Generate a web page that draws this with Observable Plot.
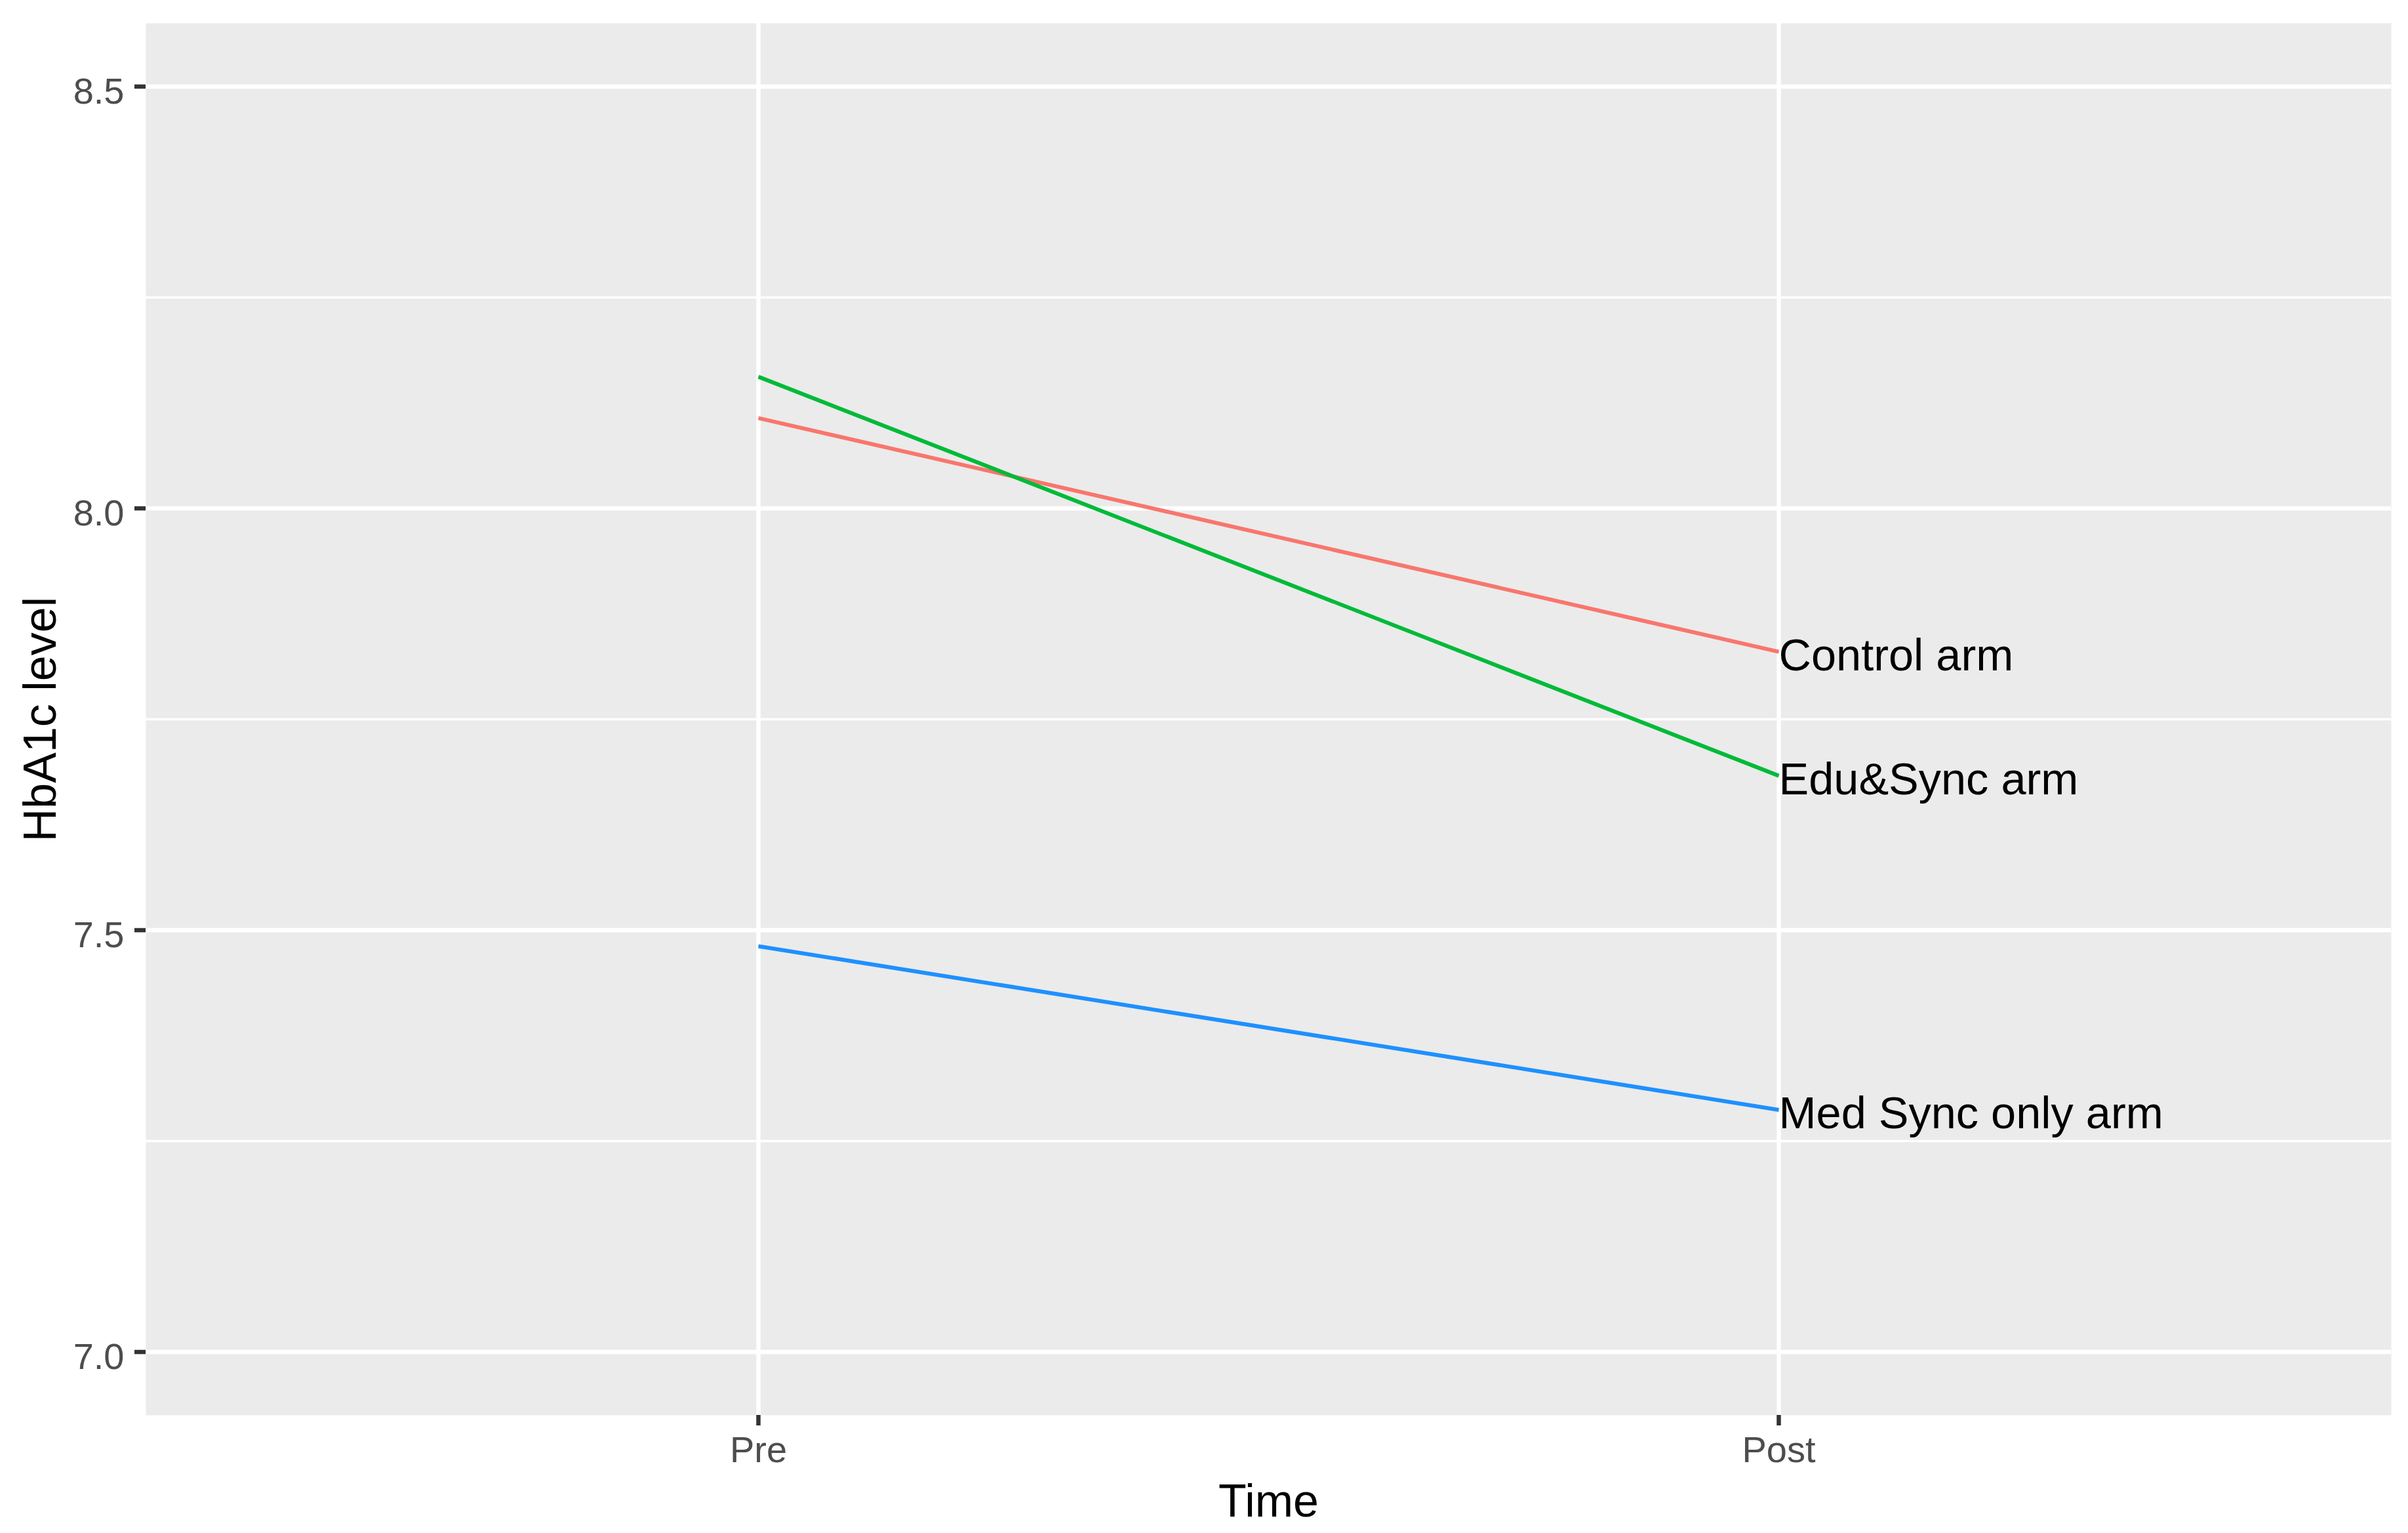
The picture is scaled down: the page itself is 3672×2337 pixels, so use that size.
<!DOCTYPE html>
<html>
<head>
<meta charset="utf-8">
<script src="https://cdn.jsdelivr.net/npm/d3@7"></script>
<script src="https://cdn.jsdelivr.net/npm/@observablehq/plot@0.6"></script>
<style>
  html, body { margin: 0; padding: 0; background: white; }
</style>
</head>
<body>
<div id="chart"></div>
<script>
const times = ["Pre", "Post"];
const arms = ["Control arm", "Edu&Sync arm", "Med Sync only arm"];
const preValues = [8.107, 8.156, 7.481];
const postValues = [7.830, 7.683, 7.287];
const armColors = ["#F8766D", "#00BA38", "#1E90FF"];
const yTicks = [7.0, 7.5, 8.0, 8.5];
const yMinorTicks = [7.25, 7.75, 8.25];
const xTitle = ["Time"];
const yTitle = ["HbA1c level"];

const data = arms.flatMap((arm, i) => [
  {arm, time: times[0], value: preValues[i]},
  {arm, time: times[1], value: postValues[i]}
]);
const endLabels = data.filter(d => d.time === times[1]);

const font = "'Liberation Sans', Arial, Helvetica, sans-serif";

const chart = Plot.plot({
  width: 3672,
  height: 2337,
  marginLeft: 222,
  marginRight: 26,
  marginTop: 35,
  marginBottom: 180,
  style: {fontFamily: font, background: "white", overflow: "visible"},
  x: {type: "point", domain: times, padding: 0.6},
  y: {domain: [6.925, 8.575]},
  color: {domain: arms, range: armColors},
  marks: [
    Plot.frame({fill: "#EBEBEB", stroke: null}),
    Plot.gridY(yMinorTicks, {stroke: "white", strokeOpacity: 1, strokeWidth: 3.4}),
    Plot.gridY(yTicks, {stroke: "white", strokeOpacity: 1, strokeWidth: 6.5}),
    Plot.gridX(times, {stroke: "white", strokeOpacity: 1, strokeWidth: 6.5}),
    Plot.line(data, {x: "time", y: "value", z: "arm", stroke: "arm", strokeWidth: 6, strokeLinecap: "butt"}),
    Plot.text(endLabels, {x: "time", y: "value", text: "arm", textAnchor: "start", fill: "black", fontSize: 68.5, dy: 6, fontFamily: font}),
    Plot.axisY(yTicks, {tickSize: 17, text: null, stroke: "#333333", strokeWidth: 6.5, label: null}),
    Plot.axisY(yTicks, {tickSize: 0, tickPadding: 33, dy: 8, fontSize: 56, fill: "#4D4D4D", tickFormat: d3.format(".1f"), label: null, fontFamily: font}),
    Plot.axisX(times, {tickSize: 16, tickPadding: 16, fontSize: 56, fill: "#4D4D4D", stroke: "#333333", strokeWidth: 6.5, label: null, fontFamily: font}),
    Plot.text(xTitle, {text: d => d, frameAnchor: "bottom", textAnchor: "middle", lineAnchor: "bottom", dy: 154, fontSize: 70, fill: "black", fontFamily: font}),
    Plot.text(yTitle, {text: d => d, frameAnchor: "left", textAnchor: "middle", lineAnchor: "top", rotate: -90, dx: -187, fontSize: 70, fill: "black", fontFamily: font})
  ]
});
document.getElementById("chart").appendChild(chart);
</script>
</body>
</html>
